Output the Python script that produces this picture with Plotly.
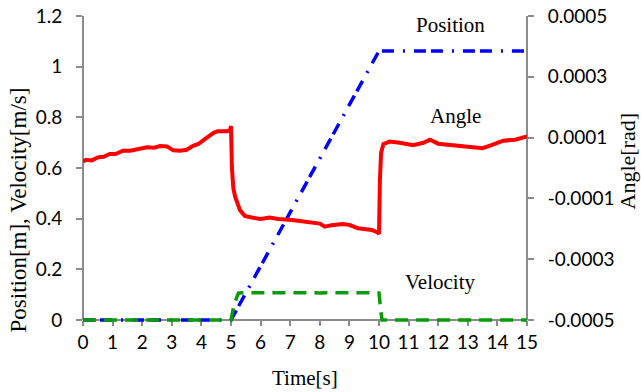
import plotly.graph_objects as go

# ---- data ----
time_angle = [0, 0.1, 0.3, 0.5, 0.7, 0.9, 1.1, 1.35, 1.6, 1.9, 2.16, 2.4, 2.6, 2.84, 3.05,
              3.28, 3.5, 3.72, 3.9, 4.05, 4.2, 4.4, 4.55, 4.86, 4.97, 5.0, 5.03, 5.08, 5.14,
              5.22, 5.3, 5.4, 5.47, 5.7, 6.0, 6.3, 6.6, 7.06, 7.4, 7.74, 8.0, 8.17, 8.4,
              8.75, 9.0, 9.29, 9.5, 9.76, 9.97, 10.0, 10.03, 10.07, 10.15, 10.37, 10.7,
              11.15, 11.5, 11.72, 12.0, 12.5, 13.0, 13.5, 13.8, 14.2, 14.6, 15.0]
angle_rad = [2.1e-5, 2.7e-5, 2.5e-5, 3.5e-5, 3.7e-5, 4.6e-5, 4.6e-5, 5.7e-5, 5.7e-5, 6.3e-5,
             6.8e-5, 6.7e-5, 7.2e-5, 7.1e-5, 5.8e-5, 5.7e-5, 6.0e-5, 7.3e-5, 7.9e-5, 9.0e-5,
             10.0e-5, 11.5e-5, 12.1e-5, 12.1e-5, 12.7e-5, 13.8e-5, 0.0, -6.7e-5, -9.4e-5,
             -12.1e-5, -13.8e-5, -15.0e-5, -15.8e-5, -16.3e-5, -16.8e-5, -16.3e-5, -16.8e-5,
             -17.1e-5, -17.5e-5, -18.2e-5, -18.3e-5, -19.3e-5, -18.8e-5, -18.4e-5, -18.7e-5,
             -19.8e-5, -20.0e-5, -20.4e-5, -21.3e-5, -21.7e-5, -4.2e-5, 5.0e-5, 7.9e-5,
             8.7e-5, 8.3e-5, 7.5e-5, 8.3e-5, 9.3e-5, 8.0e-5, 7.5e-5, 7.3e-5, 6.5e-5, 7.5e-5,
             9.0e-5, 9.3e-5, 10.4e-5]

time_pos = [0, 5.0, 10.0, 15.0]
position_m = [0, 0, 1.062, 1.062]

time_vel = [0, 5.0, 5.1, 5.25, 5.4, 6.0, 7.0, 8.0, 9.0, 9.5, 10.0, 10.05, 10.1, 15.0]
velocity_ms = [0, 0, 0.06, 0.106, 0.108, 0.107, 0.108, 0.107, 0.108, 0.108, 0.107, 0.05, 0, 0]

x_ticks = list(range(0, 16))
y_ticks = [0, 0.2, 0.4, 0.6, 0.8, 1.0, 1.2]
y_tick_labels = ["0", "0.2", "0.4", "0.6", "0.8", "1", "1.2"]
y2_ticks = [-0.0005, -0.0003, -0.0001, 0.0001, 0.0003, 0.0005]
y2_tick_labels = ["-0.0005", "-0.0003", "-0.0001", "0.0001", "0.0003", "0.0005"]

# ---- layout constants ----
W, H = 641, 392
ML, MR, MT, MB = 83, 114, 16, 68
PAD = 4  # px of plot area below y = 0 so the zero-level lines are not clipped
plot_h = H - MT - MB
plot_w = W - ML - MR
y_lo = -1.2 * PAD / (plot_h - PAD)
y2_lo = -0.0005 - 0.001 * PAD / (plot_h - PAD)

AXIS = "#8c8c8c"
SERIF = "Liberation Serif"
SANS = "Lato"

fig = go.Figure()
fig.add_trace(go.Scatter(x=time_pos, y=position_m, mode="lines", name="Position",
                         line=dict(color="#0000ff", width=3.5,
                                   dash="12px,5px,12px,9px,2px,9px")))
fig.add_trace(go.Scatter(x=time_vel, y=velocity_ms, mode="lines", name="Velocity",
                         line=dict(color="#0a9a0a", width=3.5, dash="13px,8px")))
fig.add_trace(go.Scatter(x=time_angle, y=angle_rad, mode="lines", name="Angle",
                         yaxis="y2", line=dict(color="#ff0000", width=4)))

tickfont = dict(family=SANS, size=19, color="black")
fig.update_layout(
    width=W, height=H, margin=dict(l=ML, r=MR, t=MT, b=MB, autoexpand=False),
    paper_bgcolor="white", plot_bgcolor="white", showlegend=False,
    xaxis=dict(range=[0, 15], tickvals=x_ticks, showgrid=False, zeroline=False,
               showline=True, linecolor=AXIS, linewidth=2, ticks="outside",
               ticklen=5, tickwidth=2, tickcolor=AXIS, tickfont=tickfont,
               anchor="free", position=PAD / plot_h, layer="below traces",
               automargin=False),
    yaxis=dict(range=[y_lo, 1.2], tickvals=y_ticks, ticktext=y_tick_labels,
               showgrid=False, zeroline=False, showline=False, ticks="outside",
               ticklen=6, tickwidth=2, tickcolor=AXIS, tickfont=tickfont,
               ticklabelstandoff=10, automargin=False),
    yaxis2=dict(range=[y2_lo, 0.0005], tickvals=y2_ticks, ticktext=y2_tick_labels,
                overlaying="y", side="right", showgrid=False, zeroline=False,
                showline=False, ticks="outside", ticklen=6, tickwidth=2,
                tickcolor=AXIS, tickfont=tickfont, ticklabelstandoff=10,
                automargin=False),
)

# vertical axis lines from y = 0 to the top
for xp in (0, 1):
    fig.add_shape(type="line", xref="paper", yref="y", x0=xp, x1=xp, y0=0, y1=1.2,
                  line=dict(color=AXIS, width=2), layer="below")

lab = dict(family=SERIF, size=21, color="black")
fig.add_annotation(x=12.43, y=1.165, xref="x", yref="y", text="Position",
                   showarrow=False, font=lab)
fig.add_annotation(x=12.6, y=0.805, xref="x", yref="y", text="Angle",
                   showarrow=False, font=lab)
fig.add_annotation(x=12.06, y=0.15, xref="x", yref="y", text="Velocity",
                   showarrow=False, font=lab)

ttl = dict(family=SERIF, size=23, color="black")
fig.add_annotation(x=0.5, y=-(378 - (H - MB)) / plot_h, xref="paper", yref="paper",
                   text="Time[s]", showarrow=False,
                   font=dict(family=SERIF, size=21, color="black"),
                   xanchor="center", yanchor="middle")
fig.add_annotation(x=(17.5 - ML) / plot_w, y=(H - MB - 210) / plot_h, xref="paper",
                   yref="paper", text="Position[m], Velocity[m/s]", showarrow=False,
                   textangle=-90, font=ttl, xanchor="center", yanchor="middle")
fig.add_annotation(x=(627 - ML) / plot_w, y=(H - MB - 161.5) / plot_h, xref="paper",
                   yref="paper", text="Angle[rad]", showarrow=False,
                   textangle=-90, font=dict(family=SERIF, size=22, color="black"),
                   xanchor="center", yanchor="middle")

fig.write_html("out.html", config={"displayModeBar": False},
               post_script="document.body.style.margin='0';document.body.style.overflow='hidden';")
